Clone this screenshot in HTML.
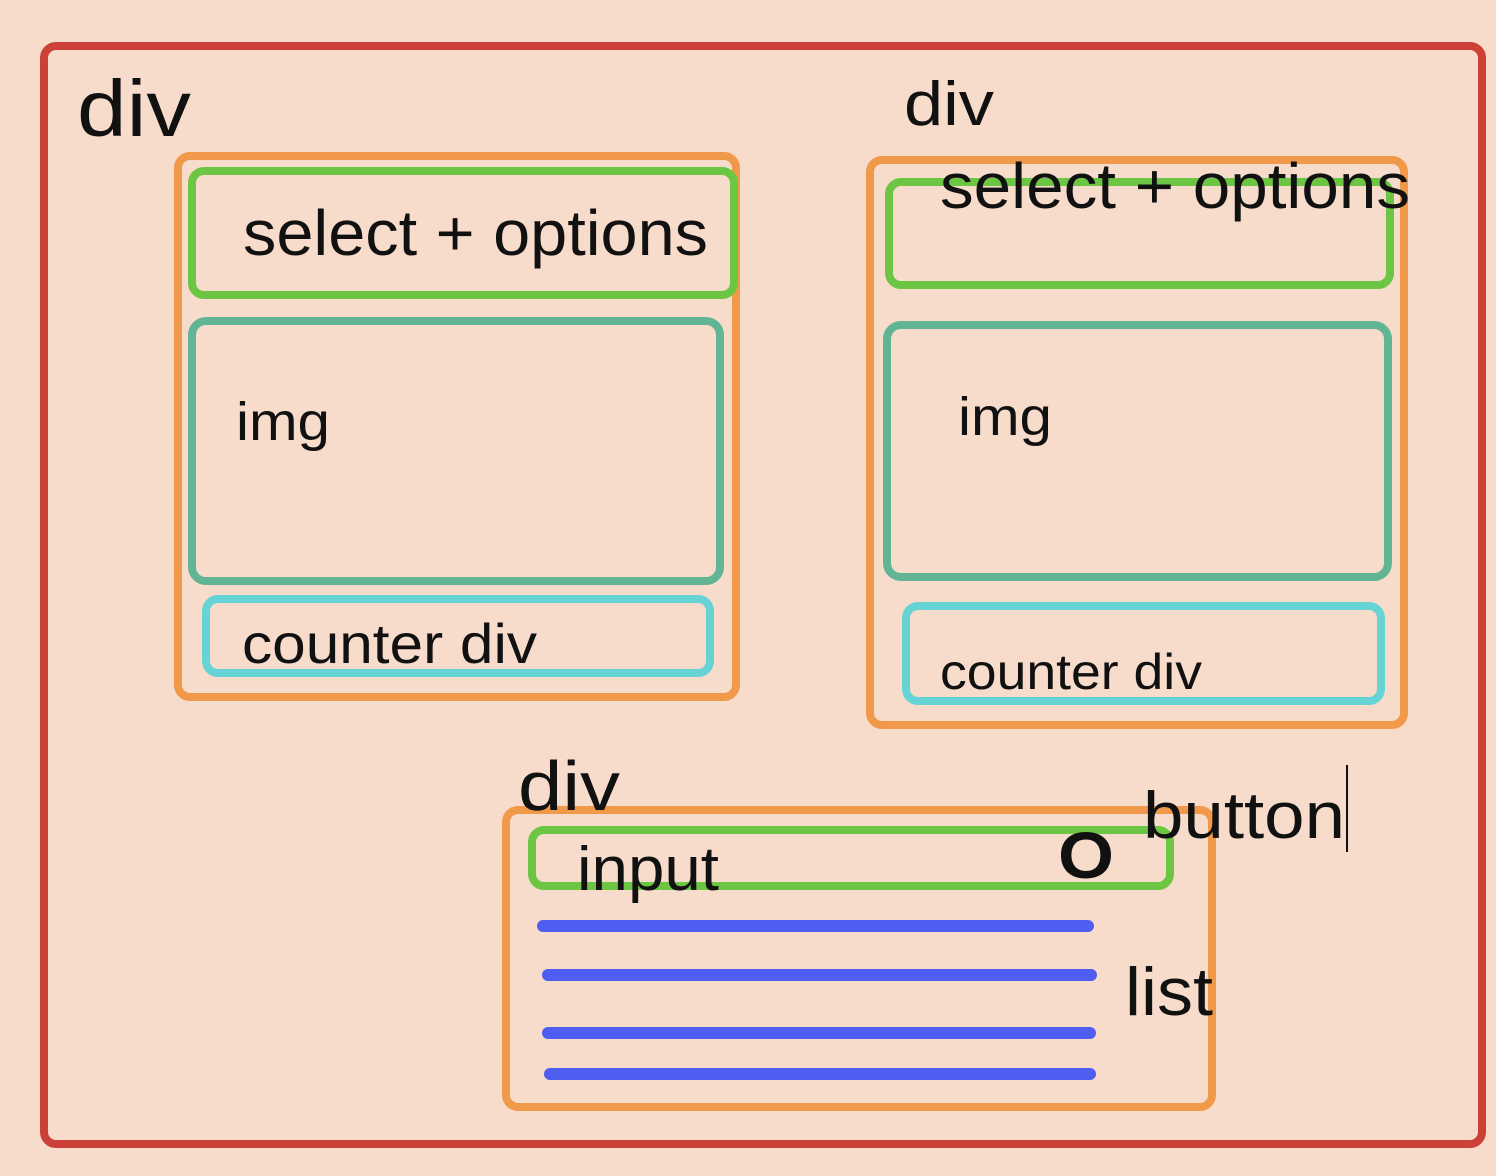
<!DOCTYPE html>
<html><head><meta charset="utf-8"><style>
html,body{margin:0;padding:0;background:#f7dccb;}
svg{display:block;}
text{font-family:"Liberation Sans",Arial,sans-serif;fill:#111;}
</style></head><body>
<svg width="1496" height="1176" viewBox="0 0 1496 1176" xmlns="http://www.w3.org/2000/svg">
<rect x="0" y="0" width="1496" height="1176" fill="#f7dccb"/>
<rect x="44" y="46" width="1438" height="1098" rx="12" fill="none" stroke="#cc4037" stroke-width="8"/>
<g fill="none" stroke-width="8">
<rect x="178" y="156" width="558" height="541" rx="12" stroke="#f0994a"/>
<rect x="192" y="171" width="542" height="124" rx="12" stroke="#6cc644"/>
<rect x="192" y="321" width="528" height="260" rx="14" stroke="#62b594"/>
<rect x="206" y="599" width="504" height="74" rx="12" stroke="#66d4d4"/>
<rect x="870" y="160" width="534" height="565" rx="12" stroke="#f0994a"/>
<rect x="889" y="182" width="501" height="103" rx="12" stroke="#6cc644"/>
<rect x="887" y="325" width="501" height="252" rx="14" stroke="#62b594"/>
<rect x="906" y="606" width="475" height="95" rx="12" stroke="#66d4d4"/>
<rect x="506" y="810" width="706" height="297" rx="12" stroke="#f0994a"/>
<rect x="532" y="830" width="638" height="56" rx="12" stroke="#6cc644"/>
</g>
<g stroke="#4f5ef0" stroke-width="12" stroke-linecap="round">
<line x1="543" y1="926" x2="1088" y2="926"/>
<line x1="548" y1="975" x2="1091" y2="975"/>
<line x1="548" y1="1033" x2="1090" y2="1033"/>
<line x1="550" y1="1074" x2="1090" y2="1074"/>
</g>
<text x="77" y="136" font-size="80" textLength="114" lengthAdjust="spacingAndGlyphs">div</text>
<text x="243" y="255" font-size="64" textLength="465" lengthAdjust="spacingAndGlyphs">select + options</text>
<text x="236" y="440" font-size="54" textLength="94" lengthAdjust="spacingAndGlyphs">img</text>
<text x="242" y="663" font-size="56" textLength="295" lengthAdjust="spacingAndGlyphs">counter div</text>
<text x="904" y="125" font-size="62" textLength="90" lengthAdjust="spacingAndGlyphs">div</text>
<text x="940" y="208" font-size="64" textLength="470" lengthAdjust="spacingAndGlyphs">select + options</text>
<text x="958" y="435" font-size="54" textLength="94" lengthAdjust="spacingAndGlyphs">img</text>
<text x="940" y="689" font-size="50" textLength="262" lengthAdjust="spacingAndGlyphs">counter div</text>
<text x="518" y="810" font-size="70" textLength="102" lengthAdjust="spacingAndGlyphs">div</text>
<text x="577" y="890" font-size="62" textLength="142" lengthAdjust="spacingAndGlyphs">input</text>
<text x="1058" y="878" font-size="66" font-weight="bold" textLength="56" lengthAdjust="spacingAndGlyphs">O</text>
<text x="1143" y="838" font-size="66" textLength="202" lengthAdjust="spacingAndGlyphs">button</text>
<line x1="1347" y1="765" x2="1347" y2="852" stroke="#111" stroke-width="2"/>
<text x="1125" y="1015" font-size="68" textLength="88" lengthAdjust="spacingAndGlyphs">list</text>
</svg>
</body></html>
